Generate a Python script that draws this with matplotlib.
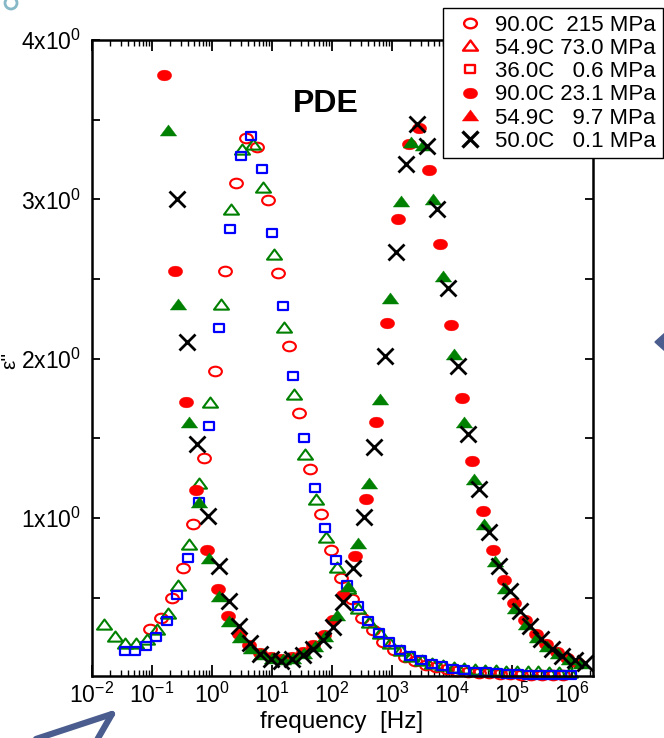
import matplotlib
matplotlib.use('Agg')
import matplotlib.pyplot as plt
import numpy as np
from matplotlib.lines import Line2D
from matplotlib.path import Path
from matplotlib.patches import Ellipse, Polygon
from matplotlib.transforms import Affine2D
from matplotlib.ticker import FixedLocator, FixedFormatter, LogLocator, NullFormatter

plt.rcParams['font.family'] = ['Liberation Sans', 'DejaVu Sans']
plt.rcParams['mathtext.fontset'] = 'custom'
plt.rcParams['mathtext.rm'] = 'Liberation Sans'
plt.rcParams['mathtext.it'] = 'Liberation Sans:italic'
plt.rcParams['mathtext.bf'] = 'Liberation Sans:bold'

# ---- data ----
labels = ['90.0C  215 MPa', '54.9C 73.0 MPa', '36.0C   0.6 MPa',
          '90.0C 23.1 MPa', '54.9C   9.7 MPa', '50.0C   0.1 MPa']

f_90_215 = [0.094, 0.141, 0.215, 0.325, 0.489, 0.736, 1.11, 1.67, 2.48, 3.69,
            5.56, 8.5, 12.6, 19, 28.5, 43, 64.6, 95, 141, 213, 320, 482, 716,
            1080, 1620, 2430, 3650, 5480, 8220, 12300, 18500, 27800, 41700,
            62500, 93800, 141000, 211000, 317000, 475000, 713000]
e_90_215 = [0.306, 0.375, 0.498, 0.689, 0.963, 1.377, 1.92, 2.548, 3.10, 3.385,
            3.33, 2.995, 2.54, 2.078, 1.658, 1.306, 1.024, 0.797, 0.626, 0.494,
            0.375, 0.295, 0.222, 0.174, 0.13, 0.10, 0.078, 0.062, 0.05, 0.041,
            0.034, 0.028, 0.024, 0.021, 0.018, 0.016, 0.015, 0.014, 0.013, 0.012]

f_55_73 = [0.016, 0.024, 0.036, 0.054, 0.081, 0.122, 0.185, 0.27, 0.41, 0.61,
           0.93, 1.4, 2.1, 3.16, 4.88, 7.08, 10.7, 16, 23.3, 35.9, 54, 80, 120,
           186, 274, 410, 620, 930, 1400, 2100, 3150, 4700, 7100, 10600, 16000,
           24000, 36000, 54000, 81000, 122000, 182000, 274000, 410000, 616000,
           924000]
e_55_73 = [0.325, 0.253, 0.21, 0.207, 0.237, 0.295, 0.40, 0.576, 0.833, 1.212,
           1.72, 2.336, 2.932, 3.309, 3.34, 3.07, 2.648, 2.19, 1.77, 1.398,
           1.111, 0.875, 0.683, 0.557, 0.431, 0.34, 0.27, 0.21, 0.166, 0.13,
           0.104, 0.085, 0.07, 0.06, 0.052, 0.046, 0.042, 0.038, 0.035, 0.033,
           0.031, 0.03, 0.029, 0.028, 0.027]

f_36_06 = [0.035, 0.052, 0.078, 0.115, 0.176, 0.264, 0.398, 0.60, 0.88, 1.31,
           2.0, 3.0, 4.5, 6.8, 10.1, 15.1, 22.7, 34.5, 52, 77, 117, 176, 268,
           403, 607, 902, 1360, 2020, 3020, 4570, 6900, 10500, 15800, 23900,
           36400, 55600, 81600, 124000, 187000, 285000, 430000, 646000, 951000]
e_36_06 = [0.163, 0.163, 0.199, 0.253, 0.354, 0.515, 0.75, 1.10, 1.58, 2.19,
           2.815, 3.27, 3.395, 3.19, 2.79, 2.33, 1.89, 1.505, 1.19, 0.934,
           0.735, 0.578, 0.45, 0.354, 0.278, 0.22, 0.174, 0.136, 0.107, 0.084,
           0.069, 0.055, 0.044, 0.036, 0.030, 0.025, 0.021, 0.019, 0.017,
           0.016, 0.015, 0.014, 0.013]

f_90_231 = [0.16, 0.245, 0.369, 0.55, 0.826, 1.24, 1.87, 2.78, 4.19, 6.38, 9.6,
            14.3, 21.5, 32.5, 48.2, 72.7, 103, 154, 242, 369, 541, 826, 1245,
            1945, 2850, 4185, 6310, 9620, 14500, 21800, 32500, 48800, 73600,
            109000, 165000, 248000, 369000, 556000, 835000, 1250000]
e_90_231 = [3.78, 2.553, 1.727, 1.174, 0.802, 0.557, 0.385, 0.274, 0.2, 0.153,
            0.128, 0.117, 0.128, 0.159, 0.2, 0.264, 0.362, 0.515, 0.762, 1.116,
            1.603, 2.225, 2.874, 3.345, 3.445, 3.184, 2.719, 2.21, 1.754, 1.356,
            1.044, 0.797, 0.609, 0.467, 0.358, 0.274, 0.211, 0.159, 0.121, 0.092]

f_55_97 = [0.183, 0.271, 0.41, 0.6, 0.9, 1.32, 1.94, 2.93, 4.41, 6.63, 10, 15,
           22.7, 34.2, 51.5, 77.4, 120, 187, 274, 414, 631, 937, 1396, 2100,
           3250, 4760, 7160, 10800, 15850, 23600, 34500, 52100, 76400, 112000,
           171000, 258000, 387000, 591000, 891000, 1400000]
e_55_97 = [3.43, 2.336, 1.593, 1.091, 0.741, 0.504, 0.347, 0.247, 0.18, 0.138,
           0.117, 0.107, 0.117, 0.149, 0.187, 0.253, 0.387, 0.567, 0.835, 1.216,
           1.739, 2.372, 2.985, 3.351, 3.334, 2.995, 2.51, 2.022, 1.593, 1.237,
           0.954, 0.724, 0.557, 0.431, 0.327, 0.249, 0.19, 0.144, 0.107, 0.085]

f_50_01 = [0.258, 0.383, 0.569, 0.858, 1.29, 1.9, 2.85, 4.25, 6.38, 9.6, 14.3,
           21.5, 32.5, 47.6, 71, 105, 154, 227, 341, 507, 764, 1153, 1711,
           2580, 3780, 5690, 8470, 12600, 18500, 28200, 41900, 61400, 92600,
           136000, 200000, 300000, 459000, 673000, 1120000, 1650000]
e_50_01 = [3.0, 2.106, 1.467, 1.013, 0.699, 0.479, 0.322, 0.215, 0.149, 0.113,
           0.102, 0.113, 0.138, 0.18, 0.232, 0.316, 0.473, 0.683, 1.003, 1.446,
           2.018, 2.671, 3.221, 3.472, 3.334, 2.937, 2.441, 1.953, 1.526, 1.18,
           0.911, 0.697, 0.54, 0.414, 0.32, 0.243, 0.18, 0.132, 0.111, 0.09]

x_ticks = [1e-2, 1e-1, 1e0, 1e1, 1e2, 1e3, 1e4, 1e5, 1e6]
x_ticklabels = [r'$10^{-2}$', r'$10^{-1}$', r'$10^{0}$', r'$10^{1}$', r'$10^{2}$',
                r'$10^{3}$', r'$10^{4}$', r'$10^{5}$', r'$10^{6}$']
y_ticks = [0.5, 1.0, 1.5, 2.0, 2.5, 3.0, 3.5, 4.0]
y_ticklabels = ['', r'$1\mathrm{x}10^{0}$', '', r'$2\mathrm{x}10^{0}$', '',
                r'$3\mathrm{x}10^{0}$', '', r'$4\mathrm{x}10^{0}$']

# ---- marker shapes (slightly flattened like the original) ----
m_ell = Path.unit_circle().transformed(Affine2D().scale(1, 0.75))
m_tri = Path([(-1, -0.55), (1, -0.55), (0, 0.8), (-1, -0.55)],
             [Path.MOVETO, Path.LINETO, Path.LINETO, Path.CLOSEPOLY])
m_sq = Path([(-1, -0.85), (1, -0.85), (1, 0.85), (-1, 0.85), (-1, -0.85)],
            [Path.MOVETO, Path.LINETO, Path.LINETO, Path.LINETO, Path.CLOSEPOLY])

RED, GREEN, BLUE = '#ff0000', '#008000', '#0000ff'

W, H = 664, 738
fig = plt.figure(figsize=(W / 100, H / 100), dpi=100)
ax = fig.add_axes([92 / W, 1 - 676 / H, (593 - 92) / W, (676 - 40) / H])


def fx(x, y):
    return (x / W, 1 - y / H)


styles = [
    dict(marker=m_ell, ms=9.2, mfc='none', mec=RED, mew=1.5),
    dict(marker=m_tri, ms=10.8, mfc='none', mec=GREEN, mew=1.5),
    dict(marker=m_sq, ms=7.6, mfc='none', mec=BLUE, mew=1.6),
    dict(marker=m_ell, ms=10.3, mfc=RED, mec=RED, mew=0.3),
    dict(marker=m_tri, ms=11.8, mfc=GREEN, mec=GREEN, mew=0.3),
    dict(marker='x', ms=11, mfc='black', mec='black', mew=2.0),
]
series = [(f_90_215, e_90_215), (f_55_73, e_55_73), (f_36_06, e_36_06),
          (f_90_231, e_90_231), (f_55_97, e_55_97), (f_50_01, e_50_01)]

for (f, e), st in zip(series, styles):
    ax.plot(f, e, ls='none', clip_on=False, **st)

ax.set_xscale('log')
ax.set_xlim(1e-2, 2.24e6)
ax.set_ylim(0.008, 4.0)

ax.xaxis.set_major_locator(FixedLocator(x_ticks))
ax.xaxis.set_major_formatter(FixedFormatter(x_ticklabels))
ax.xaxis.set_minor_locator(LogLocator(base=10, subs=np.arange(2, 10), numticks=20))
ax.xaxis.set_minor_formatter(NullFormatter())
ax.yaxis.set_major_locator(FixedLocator(y_ticks))
ax.yaxis.set_major_formatter(FixedFormatter(y_ticklabels))

ax.tick_params(which='both', direction='in', top=True, right=True,
               labelsize=16.5, color='black')
ax.tick_params(axis='x', which='major', length=8, width=1.3, pad=5)
ax.tick_params(axis='x', which='minor', length=4, width=1.0)
ax.tick_params(axis='y', which='major', length=5.5, width=1.3, pad=8)
for sp in ax.spines.values():
    sp.set_linewidth(1.8)

fig.text(*fx(342, 722), 'frequency  [Hz]', fontsize=17.5, ha='center', va='center')
fig.text(*fx(10, 360), "ε''", fontsize=15, rotation=90, ha='center', va='center')
fig.text(*fx(326, 104), 'PDE', fontsize=23, fontweight='bold',
         ha='center', va='center')

# legend (markers in the key are red except the cross)
handles = [
    Line2D([], [], ls='none', marker=m_ell, ms=9.2, mfc='none', mec=RED, mew=1.7),
    Line2D([], [], ls='none', marker=m_tri, ms=10.8, mfc='none', mec=RED, mew=1.7),
    Line2D([], [], ls='none', marker=m_sq, ms=7.6, mfc='none', mec=RED, mew=1.7),
    Line2D([], [], ls='none', marker=m_ell, ms=10.3, mfc=RED, mec=RED, mew=0.3),
    Line2D([], [], ls='none', marker=m_tri, ms=11.8, mfc=RED, mec=RED, mew=0.3),
    Line2D([], [], ls='none', marker='x', ms=11, mec='black', mew=2.4),
]
leg = fig.legend(handles, labels, loc='upper left', bbox_to_anchor=fx(443, 8),
                 borderaxespad=0, fontsize=16, frameon=True, fancybox=False,
                 edgecolor='black', framealpha=1, borderpad=0.3,
                 handlelength=1.8, handletextpad=0.25, labelspacing=0.1,
                 numpoints=1)
leg.get_frame().set_linewidth(1.0)

# slide decorations around the chart
fig.add_artist(Ellipse(fx(11, 3), 12 / W, 12 / H, transform=fig.transFigure,
                       fill=False, ec='#86b8c8', lw=2))
arrow_col = '#4b5d8e'
for (x0, y0), (x1, y1) in [((33, 740), (112, 714)), ((97, 740), (112, 714))]:
    p0, p1 = fx(x0, y0), fx(x1, y1)
    fig.add_artist(Line2D([p0[0], p1[0]], [p0[1], p1[1]], transform=fig.transFigure,
                          color=arrow_col, lw=4.5, solid_capstyle='round'))
fig.add_artist(Polygon([fx(655, 342), fx(665, 333), fx(665, 351)], closed=True,
                       transform=fig.transFigure, fc=arrow_col, ec=arrow_col))

fig.savefig('out.png', dpi=100)
